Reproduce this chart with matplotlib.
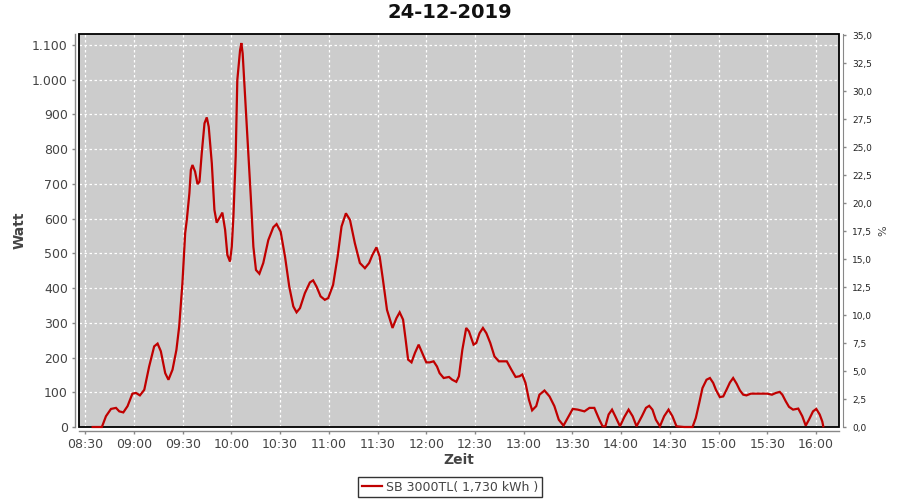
import matplotlib
matplotlib.use("Agg")
import matplotlib.pyplot as plt
from matplotlib.patches import Rectangle
from matplotlib.ticker import FixedLocator, FuncFormatter

title = "24-12-2019"
series_label = "SB 3000TL( 1,730 kWh )"

# minutes after 08:30
minutes = [4.5, 10.2, 12.7, 15.8, 18.9, 20.9, 23.4, 26, 29, 31.2, 33.6, 36.3, 39.3, 42.4, 44.5,
           46.5, 49.2, 51.2, 53.7, 56.1, 57.8, 59.8, 61.5, 62.5, 64.1, 65, 66, 67.6, 69.1, 70.3,
           71.7, 73.4, 74.8, 76, 77.9, 79.5, 80.9, 83, 84.4, 86.1, 87.5, 89.1, 90.2, 91.2, 92.6,
           93.6, 95.3, 96.1, 96.9, 98.4, 100, 101.9, 103.5, 105.1, 107.2, 109.6, 112.7, 115.8,
           117.8, 120.3, 123, 125.6, 128.1, 130.1, 132.2, 135.2, 138.3, 140.3, 142.4, 144.9,
           147.5, 149.6, 152.6, 155.4, 157.8, 160.5, 163, 166, 169.1, 172.2, 174.8, 176.8, 179.3,
           181.3, 183.3, 185.8, 189.2, 191.6, 193.6, 195.7, 197.3, 198.8, 200.9, 203, 205.3,
           207.5, 210, 212.1, 214.5, 216.6, 218.2, 220.7, 224, 226, 228.5, 230.1, 232.2, 234.6,
           236.3, 239.1, 240.8, 242.8, 244.9, 247, 249.4, 252, 254.7, 257.6, 259.6, 262.4, 265,
           267.4, 269.1, 271.1, 273.2, 275.2, 277.7, 279.7, 282.8, 285.9, 288.9, 291.6, 294.5,
           297.1, 300.2, 303.3, 307.4, 310.5, 313.5, 314.9, 316.6, 318.6, 320.3, 322.3, 324.4,
           326.4, 329.3, 332, 334.6, 337.1, 339.5, 342.8, 345.3, 347.3, 349.3, 351.4, 353.9,
           356.5, 359.2, 361.6, 364.1, 368.8, 374, 376, 378.1, 380.1, 382.6, 384.7, 386.7, 388.4,
           390.8, 392.9, 394.9, 397, 399, 401.1, 403.2, 405.2, 407.2, 409.9, 415, 420, 422.9,
           425.3, 427.7, 429.3, 431.4, 433.4, 435.9, 439.1, 441.6, 443.7, 445.7, 448.2, 450.2,
           452.3, 453.9, 454.5]
watt = [0, 0, 31, 52, 55, 45, 42, 60, 96, 98, 91, 107, 174, 232, 240,
        218, 155, 136, 165, 222, 289, 414, 558, 596, 673, 740, 754, 735, 699, 706,
        788, 874, 891, 864, 759, 625, 588, 605, 617, 567, 495, 476, 519, 605, 778,
        998, 1084, 1105, 1075, 950, 816, 663, 519, 452, 441, 472, 538, 575,
        584, 562, 490, 404, 347, 330, 342, 385, 416, 422, 404, 376,
        366, 371, 409, 491, 577, 615, 596, 529, 472, 457, 472, 495, 517,
        490, 424, 337, 285, 313, 330, 309, 251, 194, 186, 213, 237,
        213, 186, 186, 189, 174, 155, 141, 144, 136, 130, 146, 222, 285,
        275, 237, 242, 270, 285, 270, 242, 203, 189, 189, 189, 165, 144,
        146, 151, 127, 79, 48, 60, 93, 105, 88, 60, 21, 4,
        26, 52, 50, 45, 55, 55, 40, 21, 2, 2, 36, 50,
        31, 2, 29, 50, 31, 2, 31, 55, 61, 50, 21, 2,
        31, 50, 31, 2, 0, 0, 26, 69, 112, 136, 141, 127, 107,
        86, 88, 107, 128, 141, 125, 105, 93, 91, 96, 96, 96, 93,
        98, 101, 93, 74, 58, 50, 53, 31, 4, 21, 45, 52,
        36, 16, 2]

x_tick_minutes = [0, 30, 60, 90, 120, 150, 180, 210, 240, 270, 300, 330, 360, 390, 420, 450]
x_tick_labels = ["08:30", "09:00", "09:30", "10:00", "10:30", "11:00", "11:30", "12:00",
                 "12:30", "13:00", "13:30", "14:00", "14:30", "15:00", "15:30", "16:00"]
y_ticks = [0, 100, 200, 300, 400, 500, 600, 700, 800, 900, 1000, 1100]
pct_ticks = [0, 2.5, 5, 7.5, 10, 12.5, 15, 17.5, 20, 22.5, 25, 27.5, 30, 32.5, 35]

fig = plt.figure(figsize=(9, 5), dpi=100)
ax = fig.add_axes([79/900, 73/500, 760/900, 393/500])
ax.set_facecolor("#CCCCCC")

ax.plot(minutes, watt, color="#C00000", lw=1.6, zorder=5, clip_on=False,
        label=series_label, solid_joinstyle="miter")

ax.set_xlim(-3.9, 464.2)
ax.set_ylim(0, 1131)

ax.xaxis.set_major_locator(FixedLocator(x_tick_minutes))
ax.set_xticklabels(x_tick_labels)
ax.yaxis.set_major_locator(FixedLocator(y_ticks))
ax.yaxis.set_major_formatter(FuncFormatter(lambda v, p: f"{int(v):,}".replace(",", ".")))

ax.grid(True, color="white", linestyle=(0, (2, 2)), linewidth=0.9)
ax.set_axisbelow(True)

for s in ["top", "right"]:
    ax.spines[s].set_visible(False)
for s in ["left", "bottom"]:
    ax.spines[s].set_position(("outward", 3))
    ax.spines[s].set_color("#888888")
    ax.spines[s].set_linewidth(1.0)

ax.tick_params(axis="both", colors="#888888", labelcolor="#444444", labelsize=9,
               length=2.5, width=1, direction="out", pad=2.5)

frame = Rectangle((0, 0), 1, 1, transform=ax.transAxes, fill=False,
                  edgecolor="black", lw=1.3, zorder=4, clip_on=False)
ax.add_patch(frame)

ax.set_xlabel("Zeit", fontsize=10, fontweight="bold", color="#444444", labelpad=1)
ax.set_ylabel("Watt", fontsize=10, fontweight="bold", color="#444444")
ax.yaxis.set_label_coords(-0.069, 0.5)

ax2 = ax.twinx()
ax2.set_ylim(0, 35.1)
ax2.yaxis.set_major_locator(FixedLocator(pct_ticks))
ax2.yaxis.set_major_formatter(FuncFormatter(lambda v, p: f"{v:.1f}".replace(".", ",")))
for s in ["top", "left", "bottom"]:
    ax2.spines[s].set_visible(False)
ax2.spines["right"].set_position(("outward", 3))
ax2.spines["right"].set_color("#888888")
ax2.tick_params(axis="y", colors="#888888", labelcolor="#222222", labelsize=6.5,
                length=2.5, width=1, direction="out", pad=4)
ax2.set_ylabel("%", fontsize=8, color="#444444")
ax2.yaxis.set_label_coords(1.052, 0.5)

fig.suptitle(title, fontsize=14, fontweight="bold", color="#111111", y=0.976, va="center")

leg = fig.legend(loc="center", bbox_to_anchor=(0.5, 0.026), fontsize=9, frameon=True,
                 fancybox=False, handlelength=1.6, handletextpad=0.3, borderpad=0.3,
                 borderaxespad=0)
leg.get_frame().set_edgecolor("black")
leg.get_frame().set_linewidth(1.0)
for t in leg.get_texts():
    t.set_color("#444444")

fig.savefig("out.png", dpi=100)
